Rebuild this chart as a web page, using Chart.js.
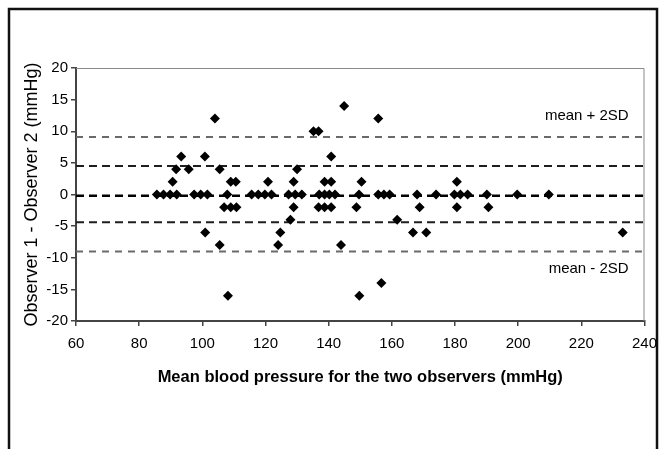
<!DOCTYPE html>
<html>
<head>
<meta charset="utf-8">
<script src="https://cdn.jsdelivr.net/npm/chart.js@4/dist/chart.umd.min.js"></script>
<style>
  html, body { margin: 0; padding: 0; background: #fff; }
  #wrap { width: 666px; height: 449px; position: relative; }
</style>
</head>
<body>
<div id="wrap"><canvas id="c" width="666" height="449"></canvas></div>
<script>
// ---- Data ----
const meanBP = [
  85.6, 87.7, 89.8, 91.9, 90.6, 91.7, 93.3, 95.7,
  97.4, 99.5, 101.6, 100.8, 100.9, 104.0, 105.5, 105.5,
  107.9, 109.0, 110.6, 106.9, 109.0, 110.8, 108.1,
  115.6, 117.7, 119.8, 121.9, 120.8,
  124.7, 124.0, 127.9, 128.9, 127.3, 129.4, 131.5, 128.9, 130.0,
  135.2, 136.8, 144.9, 140.8, 138.7, 140.8,
  137.0, 138.7, 140.2, 142.0, 136.8, 138.7, 140.8, 143.9,
  150.4, 149.6, 148.8, 149.7, 155.7, 156.7,
  155.7, 157.5, 159.3, 161.7,
  168.0, 168.8, 166.7, 170.9, 174.0,
  180.6, 179.8, 181.7, 184.0, 180.6,
  190.1, 190.6, 199.7, 209.7, 233.1
];
const diffBP = [
  0, 0, 0, 0, 2, 4, 6, 4,
  0, 0, 0, 6, -6, 12, 4, -8,
  0, 2, 2, -2, -2, -2, -16,
  0, 0, 0, 0, 2,
  -6, -8, -4, -2, 0, 0, 0, 2, 4,
  10, 10, 14, 6, 2, 2,
  0, 0, 0, 0, -2, -2, -2, -8,
  2, 0, -2, -16, 12, -14,
  0, 0, 0, -4,
  0, -2, -6, -6, 0,
  2, 0, 0, 0, -2,
  0, -2, 0, 0, -6
];
const limitNames = ['mean + 2SD', 'mean + SD', 'mean', 'mean - SD', 'mean - 2SD'];
const limitValues = [9.1, 4.5, -0.2, -4.4, -9.0];
const xRange = [60, 240];
const yRange = [-20, 20];
const xTickStep = 20;
const yTickStep = 5;
const xTitle = 'Mean blood pressure for the two observers (mmHg)';
const yTitle = 'Observer 1 - Observer 2 (mmHg)';
const labelTexts = ['mean + 2SD', 'mean - 2SD'];
const labelX = [235, 235];
const labelY = [12.5, -11.7];

// ---- Styles ----
const FONT = "'Liberation Sans', Arial, sans-serif";
const lineStyles = [
  { color: '#6a6a6a', width: 2, dash: [7, 6] },
  { color: '#1e1e1e', width: 2, dash: [8, 5] },
  { color: '#000000', width: 2.5, dash: [8, 5] },
  { color: '#1e1e1e', width: 2, dash: [8, 5] },
  { color: '#6a6a6a', width: 2, dash: [7, 6] }
];

const points = meanBP.map((x, i) => ({ x: x, y: diffBP[i] }));

const limitDatasets = limitValues.map((v, i) => ({
  type: 'line',
  label: limitNames[i],
  data: xRange.map(x => ({ x: x, y: v })),
  borderColor: lineStyles[i].color,
  borderWidth: lineStyles[i].width,
  borderDash: lineStyles[i].dash,
  pointRadius: 0,
  fill: false,
  order: 2
}));

const framePlugin = {
  id: 'frame',
  beforeDraw(chart) {
    const ctx = chart.ctx;
    ctx.save();
    ctx.fillStyle = '#fff';
    ctx.fillRect(0, 0, chart.width, chart.height);
    ctx.strokeStyle = '#111';
    ctx.lineWidth = 2.5;
    ctx.strokeRect(9, 9, 648, 470);
    ctx.restore();
  },
  afterDraw(chart) {
    const ctx = chart.ctx;
    const a = chart.chartArea;
    ctx.save();
    ctx.strokeStyle = '#8a8a8a';
    ctx.lineWidth = 1;
    ctx.beginPath();
    ctx.moveTo(a.left, a.top + 0.5);
    ctx.lineTo(a.right - 0.5, a.top + 0.5);
    ctx.lineTo(a.right - 0.5, a.bottom);
    ctx.stroke();
    // annotation labels
    const xs = chart.scales.x, ys = chart.scales.y;
    ctx.fillStyle = '#000';
    ctx.font = '15px ' + FONT;
    ctx.textAlign = 'right';
    ctx.textBaseline = 'middle';
    labelTexts.forEach((t, i) => {
      ctx.fillText(t, xs.getPixelForValue(labelX[i]), ys.getPixelForValue(labelY[i]));
    });
    ctx.restore();
  }
};

new Chart(document.getElementById('c'), {
  type: 'scatter',
  data: {
    datasets: [
      {
        label: 'Difference',
        data: points,
        pointStyle: 'rectRot',
        pointRadius: 5,
        pointBackgroundColor: '#000',
        pointBorderColor: '#000',
        pointBorderWidth: 0,
        showLine: false,
        order: 1
      },
      ...limitDatasets
    ]
  },
  options: {
    responsive: false,
    animation: false,
    events: [],
    layout: { padding: { left: 0, top: 68, right: 18, bottom: 0 } },
    plugins: { legend: { display: false }, tooltip: { enabled: false } },
    scales: {
      x: {
        type: 'linear',
        min: xRange[0],
        max: xRange[1],
        afterFit(scale) { scale.height = 128; },
        ticks: {
          stepSize: xTickStep,
          color: '#000',
          font: { family: FONT, size: 15 },
          padding: 9,
          maxRotation: 0
        },
        grid: { drawOnChartArea: false, drawTicks: true, tickLength: 5, color: '#444', lineWidth: 1.5 },
        border: { display: true, color: '#444', width: 2 },
        title: {
          display: true,
          text: xTitle,
          color: '#000',
          font: { family: FONT, size: 16.5, weight: 'bold' },
          padding: { top: 0, bottom: 62 }
        }
      },
      y: {
        type: 'linear',
        min: yRange[0],
        max: yRange[1],
        afterFit(scale) { scale.width = 76; },
        ticks: {
          stepSize: yTickStep,
          color: '#000',
          font: { family: FONT, size: 15 },
          padding: 3
        },
        grid: { drawOnChartArea: false, drawTicks: true, tickLength: 5, color: '#444', lineWidth: 1.5 },
        border: { display: true, color: '#444', width: 2 },
        title: {
          display: true,
          text: yTitle,
          color: '#000',
          font: { family: FONT, size: 18 },
          padding: { top: 21, bottom: 0 }
        }
      }
    }
  },
  plugins: [framePlugin]
});
</script>
</body>
</html>
